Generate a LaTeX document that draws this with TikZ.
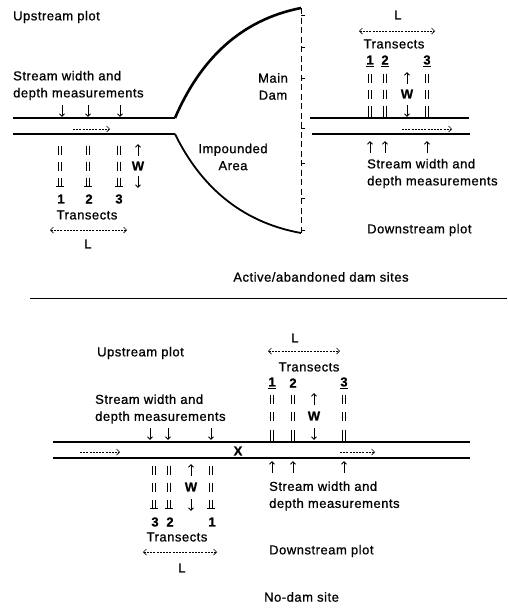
\documentclass[tikz,border=0pt]{standalone}
\usepackage{fontspec}
\setmainfont{Liberation Sans}[LetterSpace=4.0, FakeBold=0.8]
\usetikzlibrary{arrows.meta}
\tikzset{
  txt/.style={font=\fontsize{13}{17}\selectfont, inner sep=0pt},
  btxt/.style={txt, font=\fontsize{13}{17}\selectfont\bfseries},
  ltxt/.style={txt, anchor=west, align=left},
  chan/.style={line width=1.8pt},
  thin/.style={line width=0.8pt},
  dashar/.style={line width=0.7pt, dash pattern=on 2pt off 1.2pt, -{Straight Barb[length=3pt,width=6pt,line width=0.7pt]}},
  dbldash/.style={line width=0.7pt, dash pattern=on 2pt off 1.2pt, {Straight Barb[length=3pt,width=6pt,line width=0.7pt]}-{Straight Barb[length=3pt,width=6pt,line width=0.7pt]}},
  marr/.style={line width=0.9pt, -{Straight Barb[length=2.6pt,width=5pt,line width=0.9pt]}},
  barline/.style={line width=1.2pt},
  bars/.pic={\draw[barline] (-1.8,-4.5) -- (-1.8,4.5) (1.8,-4.5) -- (1.8,4.5);},
  ubars/.pic={\draw[barline] (-1.8,-4.5) -- (-1.8,4.5) (1.8,-4.5) -- (1.8,4.5) (-3.6,4.5) -- (3.6,4.5);},
  lbars/.pic={\draw[barline] (-1.8,-4.5) -- (-1.8,8) (1.8,-4.5) -- (1.8,8);},
  darr/.pic={\draw[marr] (0,-6) -- (0,6);},
  uarr/.pic={\draw[marr] (0,6) -- (0,-6);},
}
\begin{document}
\begin{tikzpicture}[x=1pt,y=-1pt]
\useasboundingbox (0,0) rectangle (508,614);

% ================= TOP: active/abandoned dam =================
\node[ltxt] (upA) at (13,17) {Upstream plot};
\node[ltxt] (swA) at (13,85.5) {Stream width and\\depth measurements};
\pic at (62,111) {darr};
\pic at (88,111) {darr};
\pic at (120,111) {darr};

% channel and reservoir
\coordinate (cu1) at (13,118);
\coordinate (cu2) at (175,118);
\coordinate (damtop) at (301,8);
\coordinate (cl1) at (13,134);
\coordinate (cl2) at (175,134);
\coordinate (dambot) at (301,233);
\draw[chan] (cu1) -- (cu2);
\draw[line width=2.6pt] (cu2) .. controls (200,60) and (240,20) .. (damtop);
\draw[chan] (cl1) -- (cl2);
\draw[line width=1.8pt] (cl2) .. controls (200,185) and (240,222) .. (dambot);

% dam
\draw[thin, dash pattern=on 6pt off 3.5pt] (damtop) -- (dambot);
\foreach \ty in {15,47,78,128,163,198,230}{
  \draw[line width=0.7pt] (301,\ty) -- (305,\ty);
}
\node[txt, align=center] (dam) at (273,86.5) {Main\\Dam};
\node[txt, align=center] (imp) at (233,157) {Impounded\\Area};

% flow arrow
\coordinate (faA1) at (73,129);
\coordinate (faA2) at (110,129);
\draw[dashar] (faA1) -- (faA2);

% left transects
\foreach \cx in {60,88,119}{
  \pic at (\cx,150) {bars};
  \pic at (\cx,166) {bars};
  \pic at (\cx,182) {ubars};
}
\pic at (138,150) {uarr};
\node[btxt] (wA) at (138,166) {W};
\pic at (138,182) {darr};
\node[btxt] (nA1) at (61,199) {1};
\node[btxt] (nA2) at (89,199) {2};
\node[btxt] (nA3) at (119,199) {3};
\node[txt] (trA) at (87,215) {Transects};
\coordinate (lA1) at (50,230);
\coordinate (lA2) at (127,230);
\draw[dbldash] (lA1) -- (lA2);
\node[txt] (LA) at (88,244) {L};

% right (downstream) part
\coordinate (ru1) at (310,118);
\coordinate (ru2) at (469,118);
\coordinate (rl1) at (312,134);
\coordinate (rl2) at (470,134);
\draw[chan] (ru1) -- (ru2);
\draw[chan] (rl1) -- (rl2);
\node[txt] (LB) at (398,15) {L};
\coordinate (lB1) at (359,31);
\coordinate (lB2) at (435,31);
\draw[dbldash] (lB1) -- (lB2);
\node[txt] (trB) at (394,44) {Transects};
\node[btxt] (nB1) at (370,61) {\underline{1}};
\node[btxt] (nB2) at (385,61) {\underline{2}};
\node[btxt] (nB3) at (427,61) {\underline{3}};
\foreach \cx in {370,385,427}{
  \pic at (\cx,78) {bars};
  \pic at (\cx,94) {bars};
  \pic at (\cx,110) {lbars};
}
\pic at (407,78) {uarr};
\node[btxt] (wB) at (407,94) {W};
\pic at (407,111) {darr};
\coordinate (faB1) at (402,129);
\coordinate (faB2) at (452,129);
\draw[dashar] (faB1) -- (faB2);
\pic at (370,147) {uarr};
\pic at (385,147) {uarr};
\pic at (427,147) {uarr};
\node[ltxt] (swB) at (367,173.5) {Stream width and\\depth measurements};
\node[ltxt] (dnB) at (367,230) {Downstream plot};

\node[txt] (capA) at (321,277) {Active/abandoned dam sites};
\coordinate (rule1) at (30,298);
\coordinate (rule2) at (507,298);
\draw[line width=1pt] (rule1) -- (rule2);

% ================= BOTTOM: no-dam site =================
\node[ltxt] (upC) at (97,353) {Upstream plot};
\node[txt] (LC) at (295,338) {L};
\coordinate (lC1) at (268,351);
\coordinate (lC2) at (340,351);
\draw[dbldash] (lC1) -- (lC2);
\node[txt] (trC) at (309,367) {Transects};
\node[btxt] (nC1) at (272,383) {\underline{1}};
\node[btxt] (nC2) at (293,383) {2};
\node[btxt] (nC3) at (344,383) {\underline{3}};
\foreach \cx in {272,293,344}{
  \pic at (\cx,399) {bars};
  \pic at (\cx,416) {bars};
  \pic at (\cx,434) {lbars};
}
\pic at (314,399) {uarr};
\node[btxt] (wC) at (314,416) {W};
\pic at (314,434) {darr};

\node[ltxt] (swC) at (95,409) {Stream width and\\depth measurements};
\pic at (150,434) {darr};
\pic at (168,434) {darr};
\pic at (211,434) {darr};

\coordinate (su1) at (53,442);
\coordinate (su2) at (470,442);
\coordinate (sl1) at (53,458);
\coordinate (sl2) at (470,458);
\draw[chan] (su1) -- (su2);
\draw[chan] (sl1) -- (sl2);
\node[btxt] (X) at (238,451) {X};
\coordinate (faC1) at (80,452);
\coordinate (faC2) at (120,452);
\draw[dashar] (faC1) -- (faC2);
\coordinate (faD1) at (340,452);
\coordinate (faD2) at (375,452);
\draw[dashar] (faD1) -- (faD2);

\pic at (272,467) {uarr};
\pic at (293,467) {uarr};
\pic at (344,467) {uarr};

\foreach \cx in {154,169,211}{
  \pic at (\cx,470) {bars};
  \pic at (\cx,487) {bars};
  \pic at (\cx,504) {ubars};
}
\pic at (191,470) {uarr};
\node[btxt] (wD) at (191,487) {W};
\pic at (191,505) {darr};
\node[btxt] (nD3) at (155,522) {3};
\node[btxt] (nD2) at (170,522) {2};
\node[btxt] (nD1) at (212,522) {1};
\node[txt] (trD) at (177,537) {Transects};
\coordinate (lD1) at (143,552);
\coordinate (lD2) at (217,552);
\draw[dbldash] (lD1) -- (lD2);
\node[txt] (LD) at (182,568) {L};

\node[ltxt] (swD) at (269,496) {Stream width and\\depth measurements};
\node[ltxt] (dnD) at (269,551) {Downstream plot};
\node[ltxt] (capB) at (264,597) {No-dam site};
\end{tikzpicture}
\end{document}
